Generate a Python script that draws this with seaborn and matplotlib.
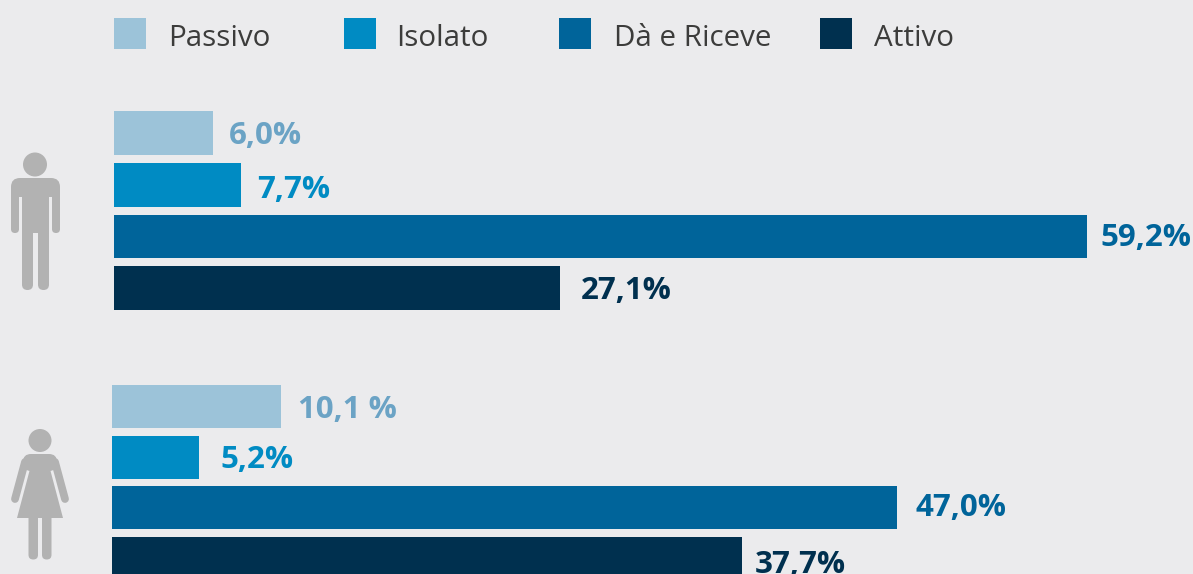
import matplotlib
matplotlib.use("Agg")
import matplotlib.pyplot as plt
from matplotlib.patches import Rectangle, Circle, FancyBboxPatch, Polygon
import pandas as pd
import seaborn as sns

categories = ["Passivo", "Isolato", "Dà e Riceve", "Attivo"]
men_values = [6.0, 7.7, 59.2, 27.1]
women_values = [10.1, 5.2, 47.0, 37.7]
men_labels = ["6,0%", "7,7%", "59,2%", "27,1%"]
women_labels = ["10,1 %", "5,2%", "47,0%", "37,7%"]

bar_colors = ["#9CC3D9", "#008BC3", "#00649A", "#00304F"]
label_colors = ["#6BA3C5", "#008BC3", "#00649A", "#00304F"]
BG = "#EBEBED"
GREY = "#B2B2B2"
W, H = 1193, 574

sns.set_theme(style="white")
plt.rcParams["font.family"] = ["Open Sans", "DejaVu Sans"]
fig = plt.figure(figsize=(W / 100, H / 100), dpi=100, facecolor=BG)


def px_axes(x0, y0, x1, y1):
    return fig.add_axes([x0 / W, 1 - y1 / H, (x1 - x0) / W, (y1 - y0) / H])


def panel(box, values, labels, xmax, ylim, width, gaps, lifts):
    ax = px_axes(*box)
    df = pd.DataFrame({"cat": categories, "val": values})
    sns.barplot(data=df, x="val", y="cat", hue="cat", palette=bar_colors, order=categories,
                hue_order=categories, width=width, legend=False, saturation=1, ax=ax, orient="h",
                linewidth=0, edgecolor="none")
    ax.set_xlim(0, xmax)
    ax.set_ylim(*ylim)
    ax.set_facecolor("none")
    ax.axis("off")
    for i, (v, t) in enumerate(zip(values, labels)):
        ax.annotate(t, (v, i), xytext=(gaps[i], lifts[i]), textcoords="offset pixels",
                    color=label_colors[i], fontsize=22.5, fontweight="bold", va="baseline",
                    ha="left", annotation_clip=False)
    return ax


panel((114, 107.4, W, 314.0), men_values, men_labels, (W - 114) / 16.44, (3.5, -0.5), 0.85,
      [16, 17, 13, 21], [-11, -13, -9, -11])
panel((112, 381.6, W, H), women_values, women_labels, (W - 112) / 16.7, (3.31, -0.5), 0.85,
      [17, 22, 19, 13], [-11.5, -10.5, -8.5, -15])

ov = fig.add_axes([0, 0, 1, 1])
ov.set_xlim(0, W)
ov.set_ylim(H, 0)
ov.axis("off")
ov.patch.set_alpha(0)

for x_sw, x_t, c, t in zip([114, 344, 559, 820], [168, 396.5, 614, 874], bar_colors, categories):
    ov.add_patch(Rectangle((x_sw, 18), 32, 31, fc=c, ec="none"))
    ov.text(x_t, 46, t, fontsize=21.3, color="#3C3C3B", va="baseline", ha="left")


def rrect(x, y, w, h, r):
    ov.add_patch(FancyBboxPatch((x + r, y + r), w - 2 * r, h - 2 * r,
                                boxstyle=f"round,pad={r},rounding_size={r}",
                                fc=GREY, ec="none", mutation_scale=1))


# man icon
ov.add_patch(Circle((35, 164.5), 12, fc=GREY, ec="none"))
rrect(11, 178, 49, 40, 9)
rrect(11, 190, 8, 43, 4)
rrect(52, 190, 8, 43, 4)
ov.add_patch(Rectangle((19, 197), 3, 30, fc=BG, ec="none"))
ov.add_patch(Rectangle((49, 197), 3, 30, fc=BG, ec="none"))
ov.add_patch(Rectangle((22, 190), 27, 43, fc=GREY, ec="none"))
rrect(22, 225, 11, 65, 5.5)
rrect(38, 225, 11, 65, 5.5)

# woman icon
ov.add_patch(Circle((40, 440.5), 11.5, fc=GREY, ec="none"))
for xs in ((25, 15), (55, 65)):
    ov.plot(xs, (462, 499), color=GREY, lw=5.6, solid_capstyle="round")
rrect(23, 454, 34, 17, 8)
ov.add_patch(Polygon([(17, 518), (63, 518), (50, 469), (30, 469)], fc=GREY, ec="none"))
rrect(28.5, 510, 9.5, 49.5, 4.7)
rrect(42, 510, 9.5, 49.5, 4.7)

fig.savefig("out.png", dpi=100, facecolor=BG)
